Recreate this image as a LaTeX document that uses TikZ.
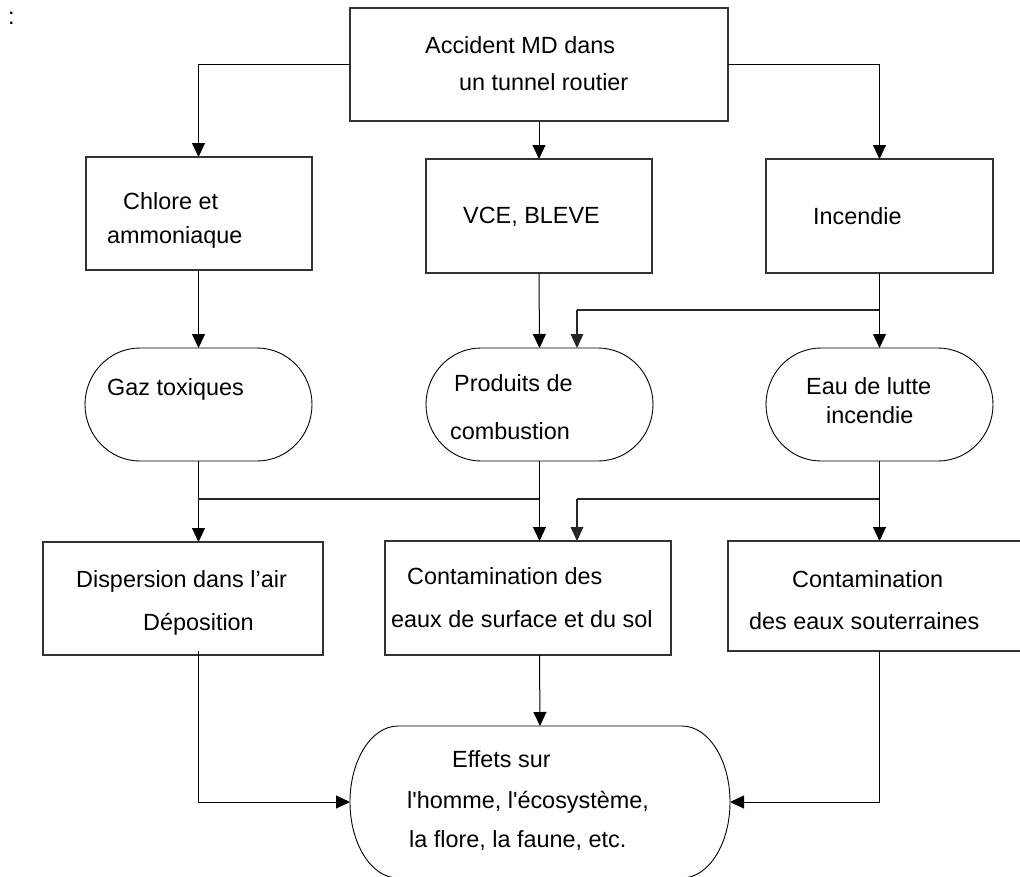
\documentclass[tikz,border=0pt]{standalone}
\usepackage{fontspec}
\setmainfont{Liberation Sans}[Ligatures=TeXOff]
\usetikzlibrary{arrows.meta}

% outline of a terminator shape: straight top/bottom, elliptical ends
\newcommand\termoutline[3]{%
  \draw[ovalst] ([xshift=#2]#1.north west) -- ([xshift=-#2]#1.north east)
    arc[start angle=90,end angle=-90,x radius=#2,y radius=#3]
    -- ([xshift=#2]#1.south west)
    arc[start angle=270,end angle=90,x radius=#2,y radius=#3] -- cycle;}

\begin{document}
\begin{tikzpicture}[x=1pt,y=-1pt,
  boxst/.style={draw=black!80,line width=1.2pt,inner sep=0pt,outer sep=0pt,rectangle},
  termst/.style={inner sep=0pt,outer sep=0pt,rectangle},
  ovalst/.style={draw=black,line width=0.9pt},
  txt/.style={inner sep=0pt,anchor=base west,font=\fontsize{23.4pt}{28pt}\selectfont},
  link/.style={draw=black,line width=1pt,-{Triangle[width=13pt,length=14pt]}},
  branch/.style={draw=black!85,line width=1.7pt},
  branchend/.style={draw=black!85,line width=1.7pt,-{Triangle[width=13pt,length=14pt,line width=0pt]}}
]
\useasboundingbox (0,0) rectangle (1020,876);

% ---- rectangles ----
\node[boxst,minimum width=378pt,minimum height=113pt] (acc) at (539,64.5) {};
\node[boxst,minimum width=226pt,minimum height=113pt] (chl) at (199,213.5) {};
\node[boxst,minimum width=226pt,minimum height=114pt] (vce) at (539,216) {};
\node[boxst,minimum width=227pt,minimum height=114pt] (inc) at (879.5,216) {};
\node[boxst,minimum width=280pt,minimum height=113pt] (disp) at (183,598.5) {};
\node[boxst,minimum width=286pt,minimum height=114pt] (cs) at (528,598) {};
\node[boxst,minimum width=293pt,minimum height=110pt] (sout) at (874.5,596) {};

% ---- terminator shapes ----
\node[termst,minimum width=227pt,minimum height=113pt] (gaz) at (198.5,404.5) {};
\node[termst,minimum width=227pt,minimum height=113pt] (prod) at (539.5,404.5) {};
\node[termst,minimum width=227pt,minimum height=113pt] (eau) at (879.5,404.5) {};
\node[termst,minimum width=380pt,minimum height=152pt] (eff) at (540,802) {};
\termoutline{gaz}{55pt}{56.5pt}
\termoutline{prod}{55pt}{56.5pt}
\termoutline{eau}{55pt}{56.5pt}
\termoutline{eff}{48pt}{76pt}

% ---- texts ----
\node[txt] (colon) at (8,24) {:};
\node[txt] (t1) at (425,53) {Accident MD dans};
\node[txt] (t2) at (459,90) {un tunnel routier};
\node[txt] (t3) at (123,209) {Chlore et};
\node[txt] (t4) at (107,243) {ammoniaque};
\node[txt] (t5) at (463,223) {VCE, BLEVE};
\node[txt] (t6) at (813,224) {Incendie};
\node[txt] (t7) at (107,395) {Gaz toxiques};
\node[txt] (t8) at (454,391) {Produits de};
\node[txt] (t9) at (450,439) {combustion};
\node[txt] (t10) at (806,394) {Eau de lutte};
\node[txt] (t11) at (826,423) {incendie};
\node[txt] (t12) at (76,587) {Dispersion dans l’air};
\node[txt] (t13) at (143,630) {Déposition};
\node[txt] (t14) at (407,584) {Contamination des};
\node[txt] (t15) at (391,627) {eaux de surface et du sol};
\node[txt] (t16) at (792,587) {Contamination};
\node[txt] (t17) at (749,629) {des eaux souterraines};
\node[txt] (t18) at (452,767) {Effets sur};
\node[txt] (t19) at (407,808) {l'homme, l'écosystème,};
\node[txt] (t20) at (409,847) {la flore, la faune, etc.};

% ---- junction points ----
\coordinate (j1) at (879,310);
\coordinate (b1) at (577,310);
\coordinate (j2) at (879,499);
\coordinate (b2) at (577,499);
\coordinate (j3) at (198,499);
\coordinate (j4) at (539,499);

% ---- connectors: first level ----
\draw[link] (acc.west) -| (chl.north -| gaz.north);
\draw[link] (acc.south) -- (vce.north);
\draw[link] (acc.east) -| (inc.north);

% ---- connectors: second level ----
\draw[link] (chl.south -| gaz.north) -- (gaz.north);
\draw[link] (vce.south) -- (prod.north);
\draw[link] (inc.south) -- (eau.north);
\draw[branch] (j1) -- (b1);
\draw[branchend] (b1) -- (b1 |- prod.north);

% ---- connectors: third level ----
\draw[link] (gaz.south) -- (gaz.south |- disp.north);
\draw[branch] (j3) -- (j4);
\draw[link] (prod.south) -- (prod.south |- cs.north);
\draw[link] (eau.south) -- (eau.south |- sout.north);
\draw[branch] (j2) -- (b2);
\draw[branchend] (b2) -- (b2 |- cs.north);

% ---- connectors to the effects ----
\draw[link] ([yshift=4pt]gaz.south |- disp.south) |- (eff.west);
\draw[link] (cs.south -| prod.south) -- (eff.north);
\draw[link] (eau.south |- sout.south) |- (eff.east);
\end{tikzpicture}
\end{document}
